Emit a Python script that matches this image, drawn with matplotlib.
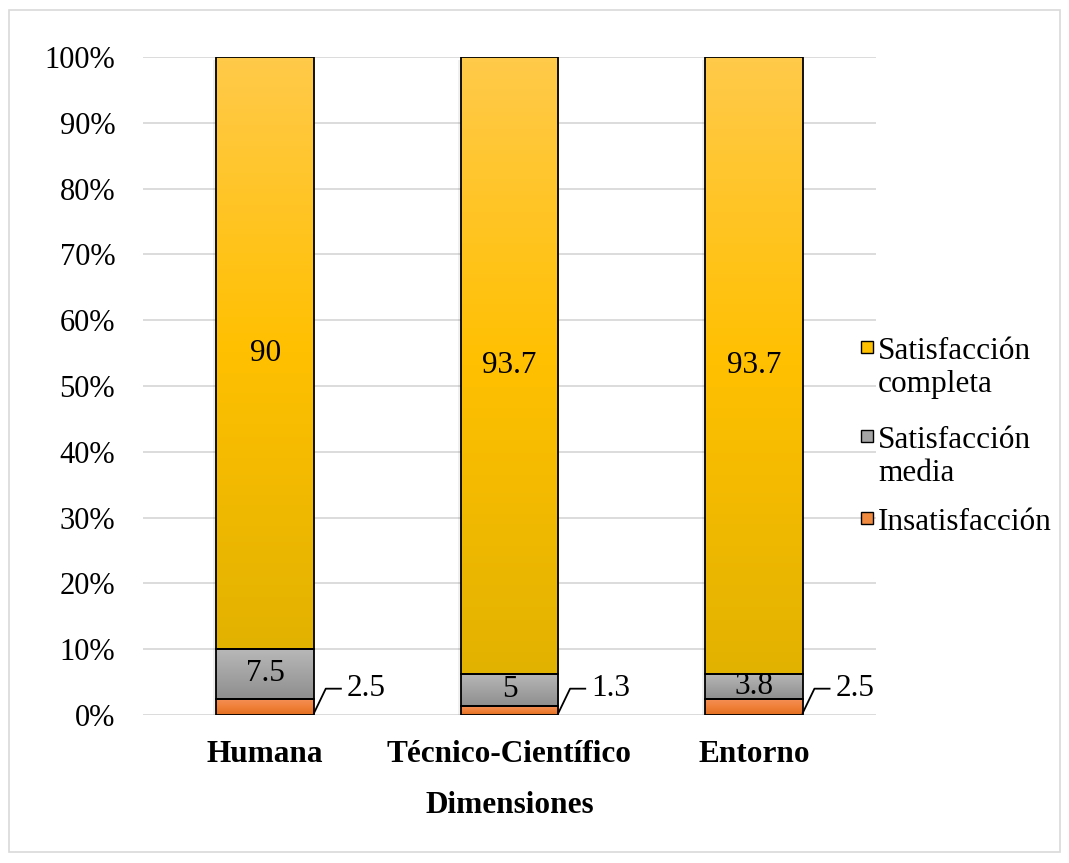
import matplotlib
matplotlib.use("Agg")
import matplotlib.pyplot as plt
import numpy as np
from matplotlib.colors import LinearSegmentedColormap
from matplotlib.patches import Rectangle
from matplotlib.ticker import PercentFormatter

plt.rcParams['font.family'] = ['Liberation Serif', 'DejaVu Serif']

categories = ["Humana", "Técnico-Científico", "Entorno"]
insatisfaccion = [2.5, 1.3, 2.5]
media = [7.5, 5, 3.8]
completa = [90, 93.7, 93.7]
series_names = ["Insatisfacción", "Satisfacción\nmedia", "Satisfacción\ncompleta"]

# gradient stops (bottom -> top) for each series
gradients = [
    ["#E4701F", "#F0813A", "#F4915A"],
    ["#8E8E8E", "#A3A3A3", "#B8B8B8"],
    ["#E2B200", "#FFC000", "#FFCA4A"],
]
solid = ["#F08A3E", "#A5A5A5", "#FFC000"]
FS = 22.5

fig = plt.figure(figsize=(10.69, 8.63), dpi=100)
W, H = fig.get_size_inches() * fig.dpi
ax = fig.add_axes([143 / W, 1 - 715 / H, 733 / W, 658 / H])

# light frame around the whole chart area
fig.patches.append(Rectangle((9 / W, 11 / H), 1051 / W, 842 / H,
                             transform=fig.transFigure, fill=False,
                             edgecolor="#D9D9D9", linewidth=1.2))

x = np.arange(len(categories))
width = 0.4
bottom = np.zeros(len(categories))
grad = np.linspace(0, 1, 256).reshape(-1, 1)
all_bars = []
for vals, stops in zip([insatisfaccion, media, completa], gradients):
    bars = ax.bar(x, vals, width, bottom=bottom, facecolor="none",
                  edgecolor="black", linewidth=1.3, zorder=4)
    cmap = LinearSegmentedColormap.from_list("g", stops)
    for b in bars:
        x0, y0 = b.get_x(), b.get_y()
        x1, y1 = x0 + b.get_width(), y0 + b.get_height()
        # soft shadow on the left side
        ax.add_patch(Rectangle((x0 - 0.012, y0 - 0.4), b.get_width(), b.get_height(),
                               facecolor="#000000", alpha=0.06, linewidth=0, zorder=2))
        ax.imshow(grad, cmap=cmap, origin="lower", aspect="auto",
                  extent=[x0, x1, y0, y1], zorder=3, interpolation="bilinear")
    all_bars.append(bars)
    bottom = bottom + np.array(vals)

# value labels inside the gray and gold segments
for bars, vals in zip(all_bars[1:], [media, completa]):
    for b, v in zip(bars, vals):
        ax.text(b.get_x() + b.get_width() / 2, b.get_y() + b.get_height() / 2,
                f"{v:g}", ha="center", va="center", fontsize=FS, zorder=5)

# small orange segments get leader lines
for b, v in zip(all_bars[0], insatisfaccion):
    xr = b.get_x() + b.get_width()
    ax.plot([xr, xr + 0.048, xr + 0.11], [0.3, 4.0, 4.0], color="black",
            linewidth=1.3, zorder=5, clip_on=False)
    ax.text(xr + 0.135, 4.0, f"{v:g}", ha="left", va="center", fontsize=FS, zorder=5)

ax.set_xlim(-0.5, 2.5)
ax.set_ylim(0, 100)
ax.set_yticks(np.arange(0, 101, 10))
ax.yaxis.set_major_formatter(PercentFormatter(decimals=0))
ax.set_xticks(x)
ax.set_xticklabels(categories, fontweight="bold", fontsize=FS)
ax.tick_params(axis="both", length=0)
ax.tick_params(axis="y", labelsize=22, pad=20)
ax.tick_params(axis="x", pad=18)
ax.grid(axis="y", color="#D9D9D9", linewidth=1.3, zorder=0)
ax.set_axisbelow(True)
for s in ax.spines.values():
    s.set_visible(False)
ax.set_xlabel("Dimensiones", fontsize=FS, fontweight="bold", labelpad=16)

# legend: square marker beside the first line of each entry
legend_rows = [347, 436, 518]
for name, color, yc in zip(series_names[::-1], solid[::-1], legend_rows):
    fig.patches.append(Rectangle((861 / W, 1 - (yc + 6) / H), 12 / W, 12 / H,
                                 transform=fig.transFigure, facecolor=color,
                                 edgecolor="black", linewidth=1.0))
    fig.text(878 / W, 1 - (yc - 10) / H, name, ha="left", va="top",
             fontsize=FS, linespacing=1.17)

fig.savefig("out.png", dpi=100)
